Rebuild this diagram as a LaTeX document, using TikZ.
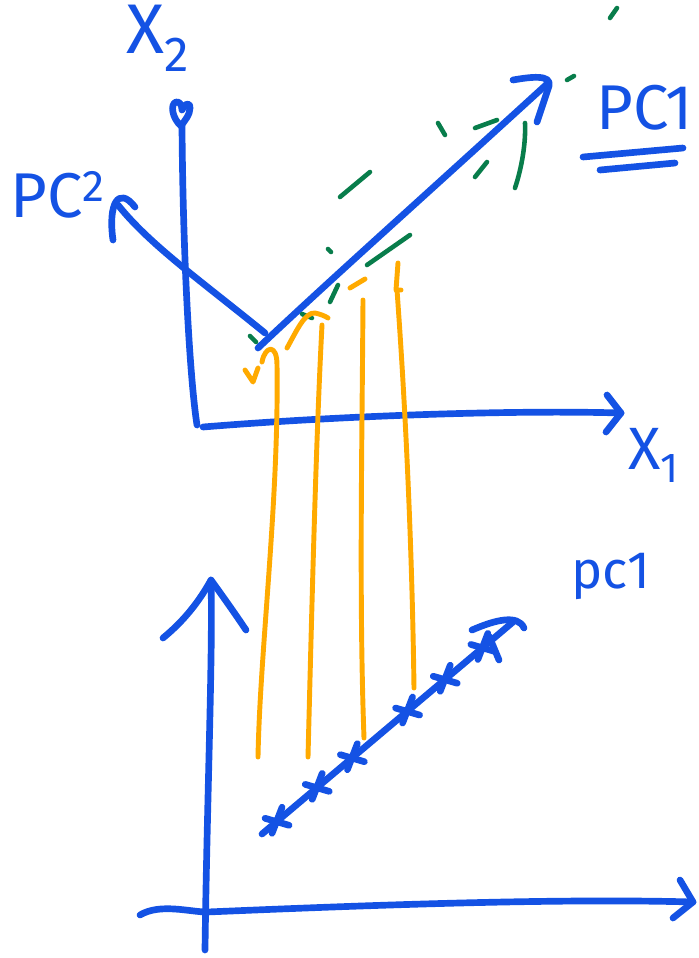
\documentclass[tikz,border=0pt]{standalone}
\usepackage{fontspec}
\setmainfont{Fira Sans}
\usetikzlibrary{calc}
\definecolor{inkblue}{RGB}{20,82,228}
\definecolor{inkorange}{RGB}{255,170,0}
\definecolor{inkgreen}{RGB}{8,125,75}

\begin{document}
\begin{tikzpicture}[
    x=0.02cm, y=-0.02cm,
    line cap=round, line join=round,
    axis/.style={draw=inkblue, line width=3.8pt},
    proj/.style={draw=inkorange, line width=2.8pt},
    spread/.style={draw=inkgreen, line width=2.6pt},
    lbl/.style={text=inkblue, inner sep=0pt, font=\fontsize{30}{30}\selectfont}
]
\fill[white] (0,0) rectangle (698,958);
\useasboundingbox (0,0) rectangle (698,958);

% upper plot: data space
\coordinate (topO) at (197,425);
\coordinate (topY) at (182,126);
\coordinate (topX) at (621,413);

\draw[axis] (topY) .. controls (183,260) and (190,380) .. (topO);
\draw[axis] (181,126) .. controls (172,118) and (170,104) .. (176,102)
    .. controls (180,101) and (182,106) .. (182,110)
    .. controls (184,104) and (190,101) .. (190,108)
    .. controls (190,115) and (185,120) .. (181,126);
\draw[axis] (203,427) .. controls (350,415) and (520,410) .. (topX);
\draw[axis] (607,395) -- (topX) -- (606,432);

\node[lbl, font=\fontsize{40}{40}\selectfont] (xtwo) at (158,38) {X\textsubscript{2}};
\node[lbl, anchor=west, font=\fontsize{34}{34}\selectfont] (xone) at (628,455) {X\textsubscript{1}};

% principal directions
\coordinate (pcbase) at (258,348);
\coordinate (pconetip) at (547,84);
\coordinate (pctwotip) at (118,205);

\draw[axis] (pcbase) .. controls (330,280) and (420,200) .. (pconetip);
\draw[axis] (513,80) .. controls (530,77) and (552,74) .. (549,86) -- (537,122);
\draw[axis] (265,333) .. controls (200,280) and (150,245) .. (pctwotip);
\draw[axis] (113,240) .. controls (108,205) and (118,185) .. (135,207);

\node[lbl, font=\fontsize{36}{36}\selectfont] (pctwo) at (58,195) {PC\textsuperscript{2}};
\node[lbl, anchor=west, font=\fontsize{36}{36}\selectfont] (pcone) at (596,108) {PC1};
\draw[axis] (583,157) -- (683,148);
\draw[axis] (600,170) -- (675,163);

% spread along pc1
\foreach \ax/\ay/\bx/\by in {250/336/256/342, 302/314/312/318, 330/302/338/285,
    328/249/331/252, 340/197/370/172, 610/18/617/8, 567/80/574/76,
    438/123/445/135, 475/128/497/120, 475/177/487/162, 367/265/410/235}
  \draw[spread] (\ax,\ay) -- (\bx,\by);
\draw[spread] (525,123) .. controls (526,145) and (521,170) .. (515,188);

% projections down to the new axis
\draw[proj] (245,370) -- (253,382) -- (258,368);
\draw[proj] (262,362) .. controls (265,346) and (277,343) .. (277,365)
    .. controls (279,500) and (260,650) .. (258,757);
\draw[proj] (287,348) .. controls (297,330) and (305,312) .. (315,313)
    .. controls (320,314) and (325,316) .. (328,318);
\draw[proj] (322,325) .. controls (316,440) and (312,600) .. (308,757);
\draw[proj] (350,288) -- (365,279);
\draw[proj] (363,300) .. controls (362,450) and (359,600) .. (364,738);
\draw[proj] (398,263) -- (396,290) -- (401,290);
\draw[proj] (397,290) .. controls (405,400) and (412,540) .. (414,688);

% lower plot: scores on pc1
\coordinate (botO) at (207,912);
\coordinate (botY) at (211,580);
\coordinate (botX) at (693,902);

\draw[axis] (205,950) .. controls (207,800) and (213,650) .. (botY);
\draw[axis] (163,638) .. controls (185,620) and (200,600) .. (botY)
    .. controls (224,598) and (236,615) .. (246,630);
\draw[axis] (140,915) .. controls (160,903) and (190,912) .. (botO)
    .. controls (350,906) and (550,898) .. (botX);
\draw[axis] (680,880) -- (botX) -- (673,918);

\coordinate (scorestart) at (262,834);
\coordinate (scoreend) at (513,622);
\draw[axis] (scorestart) -- (scoreend);
\draw[axis] (472,630) .. controls (495,620) and (518,614) .. (524,628);
\draw[axis] (489,636) -- (499,660);

\foreach \p in {0.06,0.22,0.36,0.58,0.73,0.88}
  \draw[axis] ($(scorestart)!\p!(scoreend)$) ++(5,-14) -- ++(-10,26)
              ($(scorestart)!\p!(scoreend)$) ++(-12,-3) -- ++(24,7);

\node[lbl] (pclow) at (611,576) {pc1};

\end{tikzpicture}
\end{document}
